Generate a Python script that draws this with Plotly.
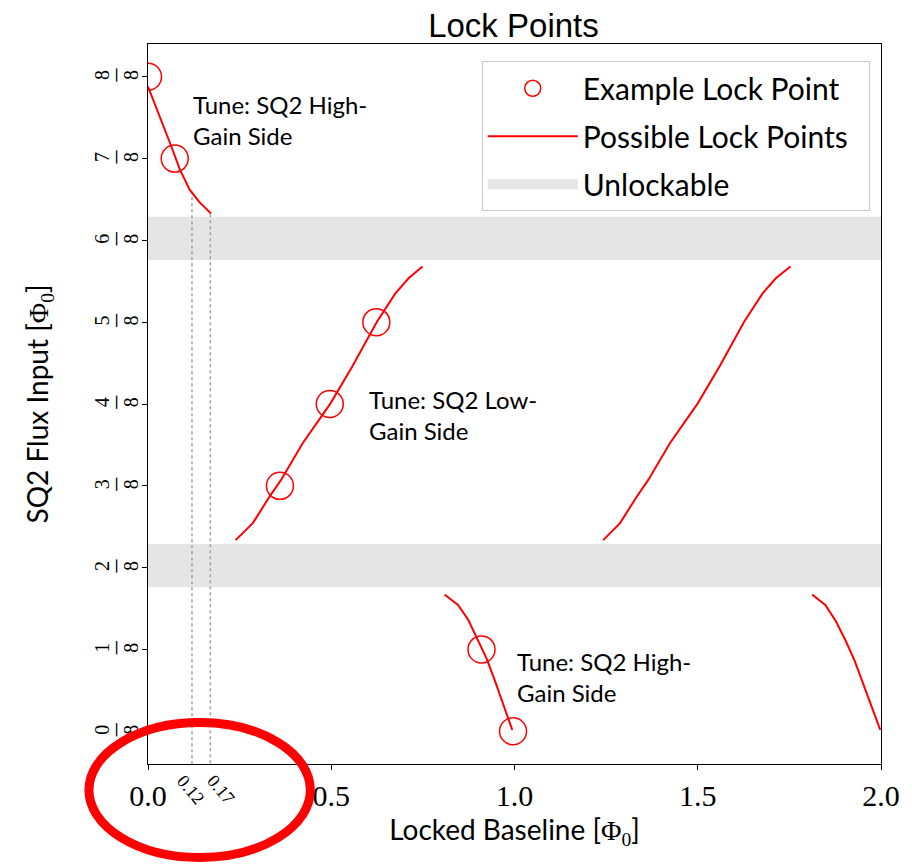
import plotly.graph_objects as go

# ---- data ----
seg1_x = [0.000, 0.033, 0.064, 0.087, 0.114, 0.141, 0.172]
seg1_y = [0.985, 0.939, 0.893, 0.858, 0.827, 0.808, 0.791]
seg2_x = [0.239, 0.286, 0.331, 0.363, 0.422, 0.498, 0.557, 0.625, 0.675, 0.711, 0.749]
seg2_y = [0.292, 0.318, 0.358, 0.384, 0.440, 0.501, 0.557, 0.626, 0.669, 0.692, 0.710]
seg3_x = [1.242, 1.288, 1.333, 1.365, 1.424, 1.500, 1.559, 1.627, 1.677, 1.713, 1.753]
seg3_y = [0.292, 0.318, 0.358, 0.384, 0.440, 0.501, 0.557, 0.626, 0.669, 0.692, 0.710]
seg4_x = [0.809, 0.846, 0.874, 0.901, 0.924, 0.946, 0.969, 0.994]
seg4_y = [0.209, 0.193, 0.170, 0.139, 0.111, 0.078, 0.042, 0.002]
seg5_x = [1.812, 1.848, 1.877, 1.903, 1.928, 1.951, 1.974, 1.998]
seg5_y = [0.209, 0.193, 0.168, 0.139, 0.108, 0.074, 0.038, 0.002]

lock_x = [0.000, 0.073, 0.360, 0.496, 0.623, 0.910, 0.996]
lock_y = [8/8, 7/8, 3/8, 4/8, 5/8, 1/8, 0/8]

band_lo = [0.220, 0.720]
band_hi = [0.286, 0.786]

guide_x = [0.12, 0.17]
guide_top = [0.825, 0.790]
guide_bottom = -0.06

y_tickvals = [0/8, 1/8, 2/8, 3/8, 4/8, 5/8, 6/8, 7/8, 8/8]
y_num = ["0", "1", "2", "3", "4", "5", "6", "7", "8"]
y_den = "8"
x_tickvals = [0.0, 0.5, 1.0, 1.5, 2.0]
x_ticktext = ["0.0", "0.5", "1.0", "1.5", "2.0"]
guide_labels = ["0.12", "0.17"]

annot_text = ["Tune: SQ2 High-<br>Gain Side", "Tune: SQ2 Low-<br>Gain Side", "Tune: SQ2 High-<br>Gain Side"]
annot_x = [0.117, 0.597, 1.001]
annot_y = [0.934, 0.483, 0.083]

SANS = "Lato"
SERIF = "Liberation Serif"
RED = "#ff0000"
BAND = "#e5e5e5"
NB = "\u00a0"

fig = go.Figure()

# unlockable bands
bx, by = [], []
for lo, hi in zip(band_lo, band_hi):
    bx += [0, 2, 2, 0, 0, None]
    by += [lo, lo, hi, hi, lo, None]
fig.add_trace(go.Scatter(x=bx, y=by, fill="toself", fillcolor=BAND,
                         line=dict(width=0, color=BAND), mode="lines",
                         showlegend=False, hoverinfo="skip"))
# legend entry for the bands
fig.add_trace(go.Scatter(x=[None], y=[None], mode="lines",
                         line=dict(width=25, color=BAND),
                         name="Unlockable", legendrank=3, legendgroup="c"))

# guide lines
for gx, gt in zip(guide_x, guide_top):
    fig.add_trace(go.Scatter(x=[gx, gx], y=[gt, guide_bottom], mode="lines",
                             line=dict(color="#a0a0a0", width=1.5, dash="dot"),
                             showlegend=False, hoverinfo="skip"))

# possible lock point curves
lx, ly = [], []
for sx, sy in [(seg1_x, seg1_y), (seg2_x, seg2_y), (seg3_x, seg3_y), (seg4_x, seg4_y), (seg5_x, seg5_y)]:
    lx += sx + [None]
    ly += sy + [None]
fig.add_trace(go.Scatter(x=lx, y=ly, mode="lines", line=dict(color=RED, width=2),
                         name="Possible Lock Points" + NB * 2, legendrank=2, legendgroup="b"))

# example lock points
fig.add_trace(go.Scatter(x=lock_x, y=lock_y, mode="markers",
                         marker=dict(symbol="circle-open", size=27, color=RED,
                                     line=dict(width=1.5, color=RED)),
                         name="Example Lock Point", legendrank=1, legendgroup="a"))

for t, ax_, ay_ in zip(annot_text, annot_x, annot_y):
    fig.add_annotation(x=ax_, y=ay_, xref="x", yref="y", text=t, showarrow=False,
                       xanchor="left", yanchor="middle", align="left",
                       font=dict(family=SANS, size=24, color="black"))

shifts = [-1, 11]
for gx, lab, sh in zip(guide_x, guide_labels, shifts):
    fig.add_annotation(x=gx, y=0, xref="x", yref="paper", text=lab, showarrow=False,
                       textangle=50, xanchor="center", yanchor="middle",
                       xshift=sh, yshift=-26,
                       font=dict(family=SERIF, size=18, color="black"))

# red ellipse highlight
fig.add_shape(type="circle", xref="paper", yref="paper",
              x0=-0.0806, x1=0.2215, y0=-0.1299, y1=0.0576,
              line=dict(color="#ff0000", width=9))

DIG = "<span style='font-size:20px'>%s</span>"
BAR = "<span style='font-size:26px'>\u2013</span>"
y_ticktext = [(DIG % n) + "<br>" + BAR + "<br>" + (DIG % y_den) for n in y_num]

fig.update_layout(
    width=912, height=864,
    margin=dict(l=148, r=26, t=44, b=100),
    paper_bgcolor="white", plot_bgcolor="white",
    title=dict(text="Lock Points", x=0.563, xanchor="center", xref="container",
               y=0.9839, yref="container", yanchor="top", pad=dict(t=0, b=0),
               font=dict(family="Liberation Sans", size=33, color="black")),
    showlegend=True,
    legend=dict(x=0.4553, y=0.976, xanchor="left", yanchor="top",
                bgcolor="rgba(255,255,255,0.85)", bordercolor="#cccccc", borderwidth=1,
                font=dict(family=SANS, size=30, color="black"),
                tracegroupgap=6, itemwidth=90),
    xaxis=dict(range=[0, 2], tickvals=x_tickvals, ticktext=x_ticktext,
               showgrid=False, zeroline=False, showline=True, linecolor="black",
               linewidth=1, mirror=True, ticks="outside", ticklen=5, tickcolor="black",
               tickfont=dict(family=SERIF, size=30, color="black"),
               title=dict(text="Locked Baseline [<span style='font-family:Liberation Serif'>Φ<sub>0</sub></span>]",
                          font=dict(family=SANS, size=28, color="black"), standoff=0)),
    yaxis=dict(range=[-0.05, 1.05], tickvals=y_tickvals, ticktext=y_ticktext,
               tickangle=-90,
               showgrid=False, zeroline=False, showline=True, linecolor="black",
               linewidth=1, mirror=True, ticks="outside", ticklen=5, tickcolor="black",
               tickfont=dict(family=SERIF, size=11, color="black"),
               title=dict(text="SQ2 Flux Input [<span style='font-family:Liberation Serif'>Φ<sub>0</sub></span>]",
                          font=dict(family=SANS, size=28, color="black"), standoff=34)),
)

fig.write_html("out.html",
               config={"displayModeBar": False},
               post_script="document.documentElement.style.overflow='hidden';"
                           "document.body.style.margin='0';document.body.style.overflow='hidden';")
